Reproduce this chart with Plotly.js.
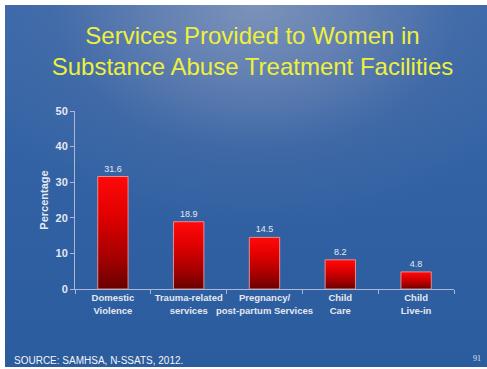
<!DOCTYPE html>
<html>
<head>
<meta charset="utf-8">
<script src="https://cdn.plot.ly/plotly-3.0.1.min.js"></script>
<style>
  html, body { margin: 0; padding: 0; background: #ffffff; }
  #wrap { position: relative; width: 487px; height: 369px; overflow: hidden; }
  #slide {
    position: absolute; left: 5px; top: 5px; width: 482px; height: 362px;
    background:
      radial-gradient(ellipse 65% 62% at 52% 0%, rgba(124,147,186,1) 0%, rgba(108,134,180,0.85) 30%, rgba(76,110,168,0.45) 65%, rgba(50,95,160,0) 100%),
      linear-gradient(to bottom, #3a69aa 0%, #3262a3 45%, #2b5c9d 100%);
  }
  #chart { position: absolute; left: 0; top: 0; width: 487px; height: 369px; }
</style>
</head>
<body>
<div id="wrap">
  <div id="slide"></div>
  <div id="chart"></div>
</div>
<script>
const categories = [
  "Domestic<br>Violence",
  "Trauma-related<br>services",
  "Pregnancy/<br>post-partum Services",
  "Child<br>Care",
  "Child<br>Live-in"
];
const values = [31.6, 18.9, 14.5, 8.2, 4.8];
const valueLabels = ["31.6", "18.9", "14.5", "8.2", "4.8"];
const yTickValues = [0, 10, 20, 30, 40, 50];

const axisColor = "#a9b8d6";
const labelColor = "#e4e8f2";

const trace = {
  type: "bar",
  x: categories,
  y: values,
  text: valueLabels,
  textposition: "outside",
  textfont: { family: "Liberation Sans, Arial, sans-serif", size: 9, color: labelColor },
  cliponaxis: false,
  marker: { color: "#d00000", line: { color: "rgba(240,150,150,0.9)", width: 1 } },
  hoverinfo: "none"
};

const layout = {
  width: 487,
  height: 369,
  margin: { l: 75, r: 33, t: 111, b: 80 },
  paper_bgcolor: "rgba(0,0,0,0)",
  plot_bgcolor: "rgba(0,0,0,0)",
  bargap: 0.6,
  showlegend: false,
  font: { family: "Liberation Sans, Arial, sans-serif" },
  title: {
    text: "Services Provided to Women in<br>Substance Abuse Treatment Facilities",
    font: { family: "Liberation Sans, Arial, sans-serif", size: 24, color: "#eef03c" },
    x: 0.5185, xref: "container", xanchor: "center",
    y: 0.882, yref: "container", yanchor: "top"
  },
  xaxis: {
    type: "category",
    showline: true, linecolor: axisColor, linewidth: 1,
    ticks: "outside", tickson: "boundaries", ticklen: 4, tickcolor: axisColor,
    tickangle: 0,
    tickfont: { family: "Liberation Sans, Arial, sans-serif", size: 9.5, color: labelColor, weight: "bold" },
    showgrid: false, zeroline: false, fixedrange: true
  },
  yaxis: {
    range: [0, 50],
    tickvals: yTickValues,
    showline: true, linecolor: axisColor, linewidth: 1,
    ticks: "outside", ticklen: 4, tickcolor: axisColor,
    tickfont: { family: "Liberation Sans, Arial, sans-serif", size: 11, color: labelColor, weight: "bold" },
    showgrid: false, zeroline: false, fixedrange: true,
    title: {
      text: "Percentage", standoff: 4,
      font: { family: "Liberation Sans, Arial, sans-serif", size: 11, color: labelColor, weight: "bold" }
    }
  },
  annotations: [
    {
      text: "SOURCE: SAMHSA, N-SSATS, 2012.",
      xref: "paper", yref: "paper", x: -0.166, y: -0.399,
      xanchor: "left", yanchor: "middle", showarrow: false,
      font: { family: "Liberation Sans, Arial, sans-serif", size: 10, color: "#f2f4f8" }
    },
    {
      text: "91",
      xref: "paper", yref: "paper", x: 1.077, y: -0.388,
      xanchor: "right", yanchor: "middle", showarrow: false,
      font: { family: "Liberation Serif, serif", size: 8, color: "#dfe5f0" }
    }
  ]
};

Plotly.newPlot("chart", [trace], layout, { displayModeBar: false, staticPlot: true }).then(function (gd) {
  const svgNS = "http://www.w3.org/2000/svg";
  const svg = gd.querySelector(".main-svg");
  let defs = svg.querySelector("defs");
  if (!defs) { defs = document.createElementNS(svgNS, "defs"); svg.insertBefore(defs, svg.firstChild); }
  const grad = document.createElementNS(svgNS, "linearGradient");
  grad.setAttribute("id", "barRedGrad");
  grad.setAttribute("x1", "0"); grad.setAttribute("y1", "0");
  grad.setAttribute("x2", "0"); grad.setAttribute("y2", "1");
  [["0%", "#ff0a0a"], ["35%", "#e00000"], ["75%", "#a00000"], ["100%", "#680000"]].forEach(function (s) {
    const st = document.createElementNS(svgNS, "stop");
    st.setAttribute("offset", s[0]);
    st.setAttribute("stop-color", s[1]);
    grad.appendChild(st);
  });
  defs.appendChild(grad);
  gd.querySelectorAll(".bars .point path").forEach(function (p) {
    p.style.fill = "url(#barRedGrad)";
  });
});
</script>
</body>
</html>
